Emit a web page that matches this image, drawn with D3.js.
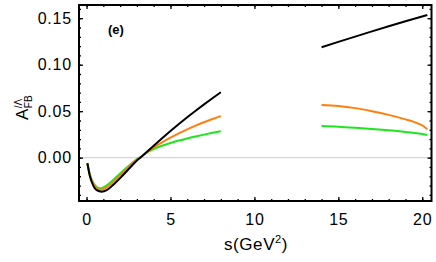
<!DOCTYPE html>
<html><head><meta charset="utf-8">
<script src="https://cdn.jsdelivr.net/npm/d3@7"></script>
<style>body{margin:0;background:#fff}svg{display:block}text{font-family:"Liberation Sans",Arial,sans-serif}</style>
</head><body><svg id="c" width="436" height="262"></svg>
<script>
// data
const blackLow = [[0.05,-0.006],[0.2,-0.020],[0.4,-0.030],[0.6,-0.035],[0.9,-0.0366],[1.2,-0.035],[1.6,-0.029],[2.0,-0.022],[2.5,-0.0125],[3.0,-0.003],[3.2,0.0],[3.5,0.0048],[4.0,0.0128],[4.5,0.0208],[5.0,0.0286],[5.5,0.0362],[6.0,0.0435],[6.5,0.0505],[7.0,0.0573],[7.5,0.0639],[8.0,0.0703]];
const orangeLow = [[0.05,-0.006],[0.2,-0.019],[0.4,-0.028],[0.6,-0.033],[0.85,-0.0347],[1.2,-0.032],[1.6,-0.026],[2.0,-0.019],[2.5,-0.0105],[3.0,-0.002],[3.2,0.0],[3.5,0.0045],[4.0,0.011],[4.5,0.0165],[5.0,0.0215],[5.5,0.0261],[6.0,0.0304],[6.5,0.0344],[7.0,0.0381],[7.5,0.0416],[8.0,0.0448]];
const greenLow = [[0.05,-0.006],[0.2,-0.018],[0.4,-0.027],[0.6,-0.0315],[0.75,-0.033],[1.0,-0.032],[1.4,-0.027],[2.0,-0.017],[2.5,-0.009],[3.0,-0.0015],[3.2,0.0005],[3.5,0.0045],[4.0,0.0092],[4.5,0.0128],[5.0,0.0158],[5.5,0.0184],[6.0,0.0207],[6.5,0.0228],[7.0,0.0248],[7.5,0.0267],[8.0,0.0285]];
const blackHigh = [[14,0.1187],[15,0.1245],[16,0.1302],[17,0.1358],[18,0.1413],[19,0.1467],[20.3,0.1535]];
const orangeHigh = [[14,0.0567],[15,0.0555],[16,0.0533],[17,0.0500],[18,0.0460],[19,0.0412],[19.5,0.0385],[19.9,0.0355],[20.1,0.0335],[20.3,0.0305]];
const greenHigh = [[14,0.034],[15,0.0333],[16,0.0322],[17,0.0309],[18,0.0294],[19,0.0276],[19.8,0.0259],[20.3,0.0244]];
const xTicks = [0,5,10,15,20];
const yTicks = [0,0.05,0.10,0.15];
const yTickLabels = ["0.00","0.05","0.10","0.15"];
const xMinor = d3.range(0,21,1);
const yMinor = d3.range(-0.04,0.165,0.01);

const svg = d3.select("#c");
const L=79,R=431.5,T=5,B=201;
const x = d3.scaleLinear().domain([-0.45,20.55]).range([L,R]);
const y = d3.scaleLinear().domain([-0.0466,0.1642]).range([B,T]);

// zero line
svg.append("line").attr("x1",L).attr("x2",R).attr("y1",y(0)).attr("y2",y(0)).attr("stroke","#cccccc").attr("stroke-width",1);

const line = d3.line().x(d=>x(d[0])).y(d=>y(d[1])).curve(d3.curveMonotoneX);
const series = [[greenLow,"#1ee61e"],[orangeLow,"#ff7f0e"],[blackLow,"#000"],[greenHigh,"#1ee61e"],[orangeHigh,"#ff7f0e"],[blackHigh,"#000"]];
series.forEach(([d,c])=>svg.append("path").datum(d).attr("d",line).attr("fill","none").attr("stroke",c).attr("stroke-width",2));

// axes
function styl(g){g.select(".domain").remove();g.selectAll("line").attr("stroke","#000").attr("stroke-width",1.3);}
const fs="16px";
svg.append("g").attr("transform",`translate(0,${B})`).call(d3.axisBottom(x).tickValues(xMinor).tickSize(-2).tickFormat("")).call(styl);
svg.append("g").attr("transform",`translate(0,${B})`).call(d3.axisBottom(x).tickValues(xTicks).tickSize(-4).tickPadding(13).tickFormat(d3.format("d"))).call(styl)
  .selectAll("text").attr("font-size",fs).attr("fill","#000").style("letter-spacing","0.8px");
svg.append("g").attr("transform",`translate(0,${T})`).call(d3.axisTop(x).tickValues(xMinor).tickSize(-2).tickFormat("")).call(styl);
svg.append("g").attr("transform",`translate(0,${T})`).call(d3.axisTop(x).tickValues(xTicks).tickSize(-4).tickFormat("")).call(styl);
svg.append("g").attr("transform",`translate(${L},0)`).call(d3.axisLeft(y).tickValues(yMinor).tickSize(-2).tickFormat("")).call(styl);
svg.append("g").attr("transform",`translate(${L},0)`).call(d3.axisLeft(y).tickValues(yTicks).tickSize(-4).tickPadding(7).tickFormat((d,i)=>yTickLabels[i])).call(styl)
  .selectAll("text").attr("font-size",fs).attr("fill","#000").style("letter-spacing","0.8px");
svg.append("g").attr("transform",`translate(${R},0)`).call(d3.axisRight(y).tickValues(yMinor).tickSize(-2).tickFormat("")).call(styl);
svg.append("g").attr("transform",`translate(${R},0)`).call(d3.axisRight(y).tickValues(yTicks).tickSize(-4).tickFormat("")).call(styl);

// frame
svg.append("rect").attr("x",L).attr("y",T).attr("width",R-L).attr("height",B-T).attr("fill","none").attr("stroke","#000").attr("stroke-width",2);

// panel label
svg.append("text").attr("x",108).attr("y",34).attr("font-size","13px").attr("font-weight","bold").text("(e)");

// x label
const xl = svg.append("text").attr("x",256).attr("y",250).attr("text-anchor","middle").attr("font-size","17px").style("letter-spacing","0.6px");
xl.append("tspan").text("s(GeV");
xl.append("tspan").attr("font-size","11px").attr("dy",-7).text("2");
xl.append("tspan").attr("dy",7).text(")");

// y label
const yl = svg.append("text").attr("transform","translate(28,120) rotate(-90)").attr("text-anchor","start").attr("font-size","17px");
yl.append("tspan").text("A");
yl.append("tspan").attr("font-size","10px").attr("dy",-6).attr("dx",0.5).text("/Λ");
yl.append("tspan").attr("font-size","10px").attr("dx",-9.5).attr("dy",10).text("FB");
</script></body></html>
